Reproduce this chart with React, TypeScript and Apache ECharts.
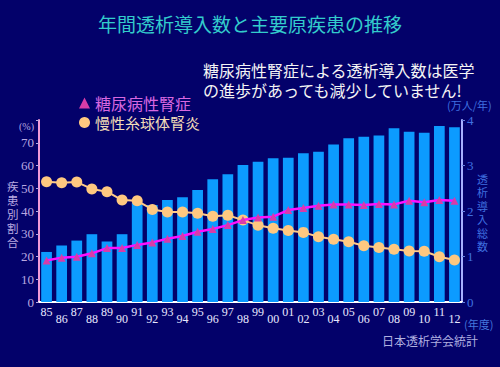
import React, { useEffect, useRef } from "react";
import * as echarts from "echarts";

const years = ["85","86","87","88","89","90","91","92","93","94","95","96","97","98","99","00","01","02","03","04","05","06","07","08","09","10","11","12"];
const totalIntro = [1.1,1.24,1.35,1.49,1.33,1.49,2.18,2.13,2.24,2.3,2.46,2.7,2.81,3.01,3.08,3.16,3.17,3.27,3.3,3.46,3.6,3.63,3.66,3.82,3.74,3.72,3.87,3.84];
const diabetic = [18.2,19.5,19.9,21.4,23.7,23.7,25.1,26.2,27.8,29.0,30.9,32.1,33.8,36.0,37.1,37.5,40.4,41.3,42.3,42.9,42.9,42.6,43.1,42.9,44.5,43.8,44.8,44.5];
const glomerulo = [52.9,52.4,52.7,49.7,48.5,44.8,44.5,40.7,39.6,39.6,39.0,37.7,38.1,36.0,33.7,32.4,31.4,30.6,28.7,27.6,26.5,24.7,24.0,23.2,22.4,22.3,19.9,18.5];
const leftTicks = [0,10,20,30,40,50,60,70];
const rightTicks = [0,1,2,3,4];

const SERIF = "'Liberation Serif', 'DejaVu Serif', serif";
const JP = "'Noto Sans CJK JP', sans-serif";

export default function App() {
  const ref = useRef<HTMLDivElement>(null);
  useEffect(() => {
    const chart = echarts.init(ref.current!, null, { renderer: "svg" });
    chart.setOption({
      animation: false,
      backgroundColor: "#03016a",
      grid: { left: 39, right: 38, top: 120, bottom: 65 },
      legend: {
        orient: "vertical",
        left: 74,
        top: 90,
        itemWidth: 11,
        itemHeight: 11,
        itemGap: 4,
        data: [
          { name: "糖尿病性腎症", icon: "triangle", textStyle: { color: "#d868e0", fontSize: 16, fontFamily: JP } },
          { name: "慢性糸球体腎炎", icon: "circle", textStyle: { color: "#f2dcb8", fontSize: 15, fontFamily: JP } },
        ],
      },
      xAxis: {
        type: "category",
        data: years,
        axisLine: { lineStyle: { color: "#ffffff", width: 2 } },
        axisTick: { show: false },
        axisLabel: {
          interval: 0,
          margin: 4,
          formatter: (v: string, i: number) => (i % 2 === 0 ? `{a|${v}}` : `{b|${v}}`),
          rich: {
            a: { color: "#e8e8ff", fontSize: 12, fontFamily: SERIF, padding: [0, 0, 0, 0] },
            b: { color: "#e8e8ff", fontSize: 12, fontFamily: SERIF, padding: [7, 0, 0, 0] },
          },
        },
      },
      yAxis: [
        {
          type: "value",
          min: 0,
          max: 80,
          interval: 10,
          position: "left",
          splitLine: { show: false },
          axisLine: { show: true, lineStyle: { color: "#f09ad8", width: 2 } },
          axisTick: { show: true, length: 3, lineStyle: { color: "#b8a8e0" } },
          axisLabel: {
            color: "#b8a8e0",
            fontSize: 13,
            fontFamily: SERIF,
            margin: 5,
            formatter: (v: number) => (leftTicks.includes(v) ? String(v) : ""),
          },
        },
        {
          type: "value",
          min: 0,
          max: 4,
          interval: 1,
          position: "right",
          splitLine: { show: false },
          axisLine: { show: true, lineStyle: { color: "#a8b0ff", width: 2 } },
          axisTick: { show: true, length: 3, lineStyle: { color: "#6680e0" } },
          axisLabel: {
            color: "#3f70e0",
            fontSize: 13,
            fontFamily: SERIF,
            margin: 5,
            formatter: (v: number) => (rightTicks.includes(v) ? String(v) : ""),
          },
        },
      ],
      series: [
        {
          name: "透析導入総数",
          type: "bar",
          yAxisIndex: 1,
          data: totalIntro,
          barCategoryGap: "29%",
          itemStyle: { color: "#0c9bff" },
          z: 1,
        },
        {
          name: "糖尿病性腎症",
          type: "line",
          yAxisIndex: 0,
          data: diabetic,
          symbol: "triangle",
          symbolSize: 8,
          lineStyle: { color: "#ff10ff", width: 2.5 },
          itemStyle: { color: "#d83ca8" },
          z: 3,
        },
        {
          name: "慢性糸球体腎炎",
          type: "line",
          yAxisIndex: 0,
          data: glomerulo,
          symbol: "circle",
          symbolSize: 11,
          lineStyle: { color: "#ffcc88", width: 2 },
          itemStyle: { color: "#ffc880" },
          z: 2,
        },
      ],
      graphic: [
        { type: "text", left: "center", top: 14, style: { text: "年間透析導入数と主要原疾患の推移", fill: "#33cccc", fontSize: 19, fontFamily: JP } },
        { type: "text", left: 203, top: 60, style: { text: "糖尿病性腎症による透析導入数は医学\nの進歩があっても減少していません!", fill: "#f4f4f4", fontSize: 16, lineHeight: 20, fontFamily: JP } },
        { type: "text", left: 19, top: 121, style: { text: "(%)", fill: "#b8a8e0", fontSize: 10, fontFamily: SERIF } },
        { type: "text", left: 7, top: 179, style: { text: "疾\n患\n別\n割\n合", fill: "#b8a8e0", fontSize: 11.5, lineHeight: 14, fontFamily: JP } },
        { type: "text", left: 447, top: 99, style: { text: "(万人/年)", fill: "#3f70e0", fontSize: 11, fontFamily: JP } },
        { type: "text", left: 477, top: 172, style: { text: "透\n析\n導\n入\n総\n数", fill: "#3f70e0", fontSize: 11, lineHeight: 13.5, fontFamily: JP } },
        { type: "text", left: 464, top: 318, style: { text: "(年度)", fill: "#4477dd", fontSize: 11, fontFamily: JP } },
        { type: "text", left: 382, top: 334, style: { text: "日本透析学会統計", fill: "#b0b0e0", fontSize: 12, fontFamily: JP } },
      ],
    });
    return () => chart.dispose();
  }, []);
  return <div ref={ref} style={{ width: 500, height: 367, position: "fixed", left: 0, top: 0 }} />;
}
